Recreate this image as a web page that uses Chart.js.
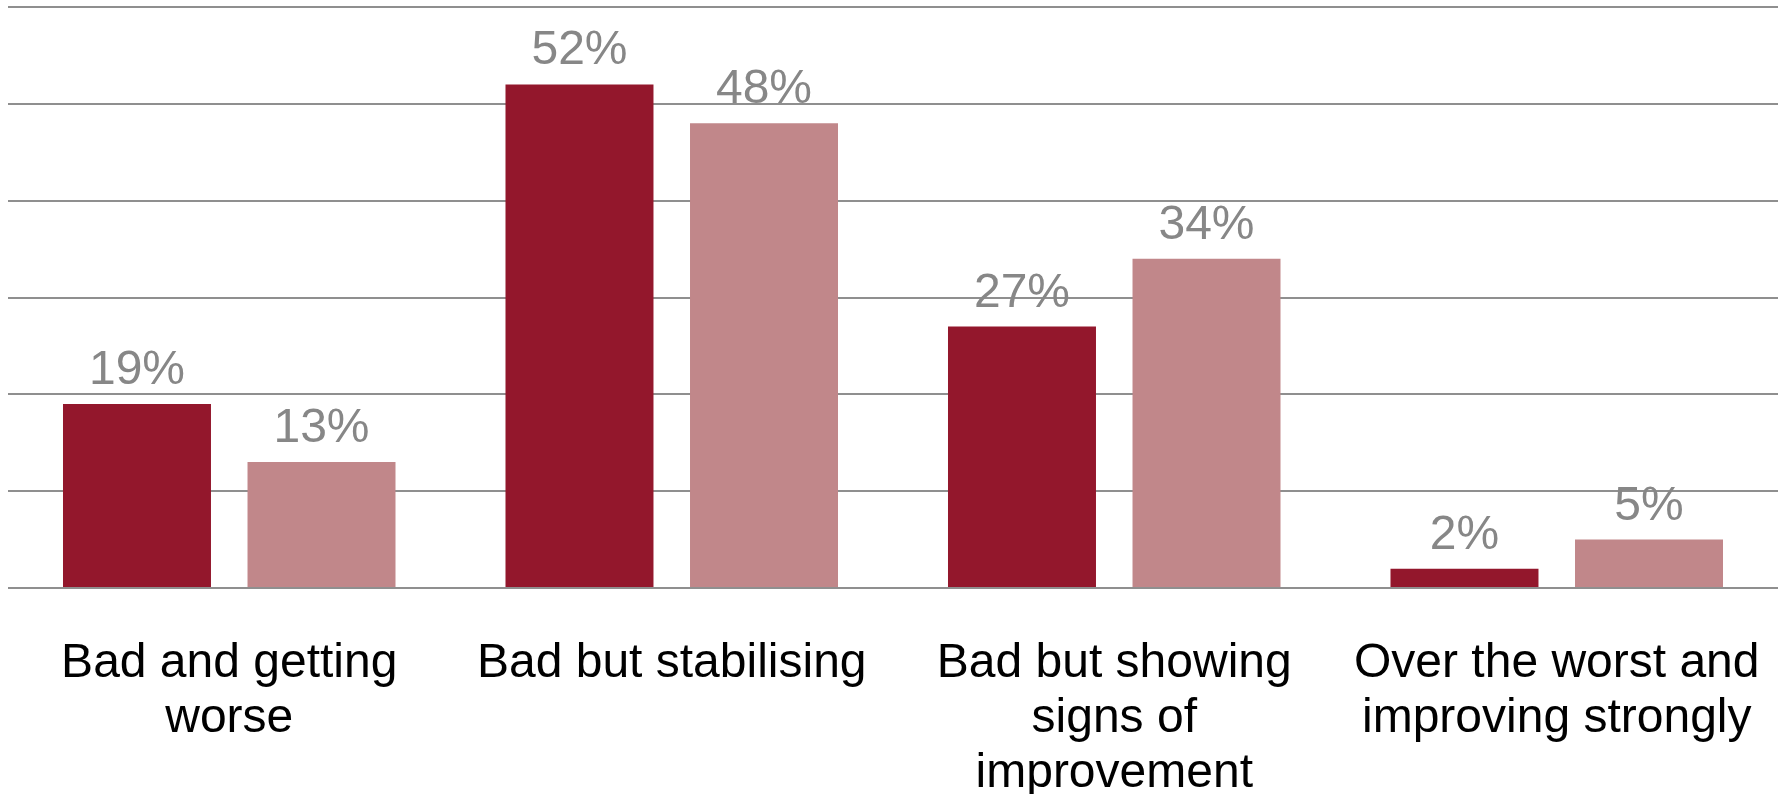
<!DOCTYPE html>
<html>
<head>
<meta charset="utf-8">
<script src="https://cdn.jsdelivr.net/npm/chart.js@4/dist/chart.umd.min.js"></script>
<style>
  html, body { margin: 0; padding: 0; background: #ffffff; overflow: hidden; }
  #chart { display: block; }
</style>
</head>
<body>
<canvas id="chart" width="1787" height="794"></canvas>
<script>
// Outlook categories (multi-line labels) and the two survey series, in percent
const categories = [
  ['Bad and getting', 'worse'],
  ['Bad but stabilising'],
  ['Bad but showing', 'signs of', 'improvement'],
  ['Over the worst and', 'improving strongly']
];
const seriesA = [19, 52, 27, 2];
const seriesB = [13, 48, 34, 5];
const yTicks = [0, 10, 20, 30, 40, 50, 60];

const FONT = '"Liberation Sans", Arial, sans-serif';

// Writes each bar's value above it, e.g. "52%"
const valueLabels = {
  id: 'valueLabels',
  afterDatasetsDraw(chart) {
    const ctx = chart.ctx;
    ctx.save();
    ctx.font = '48px ' + FONT;
    ctx.fillStyle = '#878787';
    ctx.textAlign = 'center';
    ctx.textBaseline = 'alphabetic';
    chart.data.datasets.forEach((ds, di) => {
      chart.getDatasetMeta(di).data.forEach((bar, i) => {
        ctx.fillText(ds.data[i] + '%', bar.x, bar.y - 20);
      });
    });
    ctx.restore();
  }
};

new Chart(document.getElementById('chart'), {
  type: 'bar',
  data: {
    labels: categories,
    datasets: [
      { data: seriesA, backgroundColor: '#93172C', borderWidth: 0,
        categoryPercentage: 0.834, barPercentage: 0.802 },
      { data: seriesB, backgroundColor: '#C1878A', borderWidth: 0,
        categoryPercentage: 0.834, barPercentage: 0.802 }
    ]
  },
  options: {
    responsive: false,
    animation: false,
    devicePixelRatio: 1,
    layout: { padding: { left: 8, right: 9, top: 7, bottom: 0 } },
    plugins: { legend: { display: false }, tooltip: { enabled: false } },
    scales: {
      x: {
        grid: { display: false, drawTicks: false },
        border: { display: false },
        ticks: {
          color: '#000000',
          font: { family: FONT, size: 48, lineHeight: 1.15 },
          padding: 48,
          maxRotation: 0,
          autoSkip: false
        },
        afterFit(scale) {
          // fixed band for the wrapped labels; no side padding for label overhang
          scale.height = 206;
          scale.paddingLeft = 0;
          scale.paddingRight = 0;
        }
      },
      y: {
        min: 0,
        max: 60,
        afterBuildTicks(scale) { scale.ticks = yTicks.map(v => ({ value: v })); },
        grid: { color: '#8F8F8F', lineWidth: 2, drawTicks: false },
        border: { display: false },
        ticks: { display: false },
        afterFit(scale) { scale.width = 0; }
      }
    }
  },
  plugins: [valueLabels]
});
</script>
</body>
</html>
